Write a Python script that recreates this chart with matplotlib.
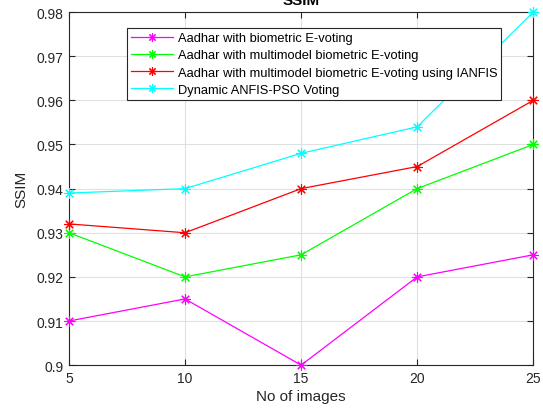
import numpy as np
import matplotlib.pyplot as plt

plt.rcParams['font.family'] = ['Liberation Sans', 'DejaVu Sans']

images = [5, 10, 15, 20, 25]
aadhar_bio = [0.910, 0.915, 0.900, 0.920, 0.925]
aadhar_multi = [0.930, 0.920, 0.925, 0.940, 0.950]
aadhar_ianfis = [0.932, 0.930, 0.940, 0.945, 0.960]
anfis_pso = [0.939, 0.940, 0.948, 0.954, 0.980]

labels = ['Aadhar with biometric E-voting',
          'Aadhar with multimodel biometric E-voting',
          'Aadhar with multimodel biometric E-voting using IANFIS',
          'Dynamic ANFIS-PSO Voting']
colors = ['#ff00ff', '#00ff00', '#ff0000', '#00ffff']
yticks = [0.9, 0.91, 0.92, 0.93, 0.94, 0.95, 0.96, 0.97, 0.98]
ytick_labels = ['0.9', '0.91', '0.92', '0.93', '0.94', '0.95', '0.96', '0.97', '0.98']

fig = plt.figure(figsize=(5.43, 4.10), dpi=100)
ax = fig.add_axes([0.127, 0.107, 0.855, 0.861])

# asterisk marker like matlab's '*'
star = (8, 2, 0)
series = [aadhar_bio, aadhar_multi, aadhar_ianfis, anfis_pso]
for vals, lab, c in zip(series, labels, colors):
    ax.plot(images, vals, '-', marker=star, color=c, lw=0.9, ms=7.5, mew=0.8,
            label=lab, clip_on=False, zorder=3)

ax.set_xlim(5, 25)
ax.set_ylim(0.9, 0.98)
ax.set_xticks(images)
ax.set_yticks(yticks)
ax.set_yticklabels(ytick_labels)
ax.grid(True, color='#e0e0e0', lw=0.8)
ax.set_axisbelow(True)
ax.tick_params(direction='in', top=True, right=True, length=4, width=0.8,
               labelsize=10, colors='#262626', labelcolor='#262626', pad=4)
for s in ax.spines.values():
    s.set_color('#262626')
    s.set_linewidth(0.8)

ax.set_xlabel('No of images', fontsize=11, color='#262626', labelpad=3)
ax.set_ylabel('SSIM', fontsize=11, color='#262626', labelpad=6)
ax.set_title('SSIM', fontsize=11, fontweight='bold', color='#000000', pad=6)

leg = ax.legend(loc='upper left', bbox_to_anchor=(0.234, 0.929),
                bbox_transform=fig.transFigure, borderaxespad=0,
                fontsize=9.3, handlelength=3.2, handletextpad=0.4,
                labelspacing=0.4, borderpad=0.32, fancybox=False,
                framealpha=1, edgecolor='#262626', markerscale=0.8)
leg.get_frame().set_linewidth(0.8)

fig.savefig('out.png', dpi=100)
